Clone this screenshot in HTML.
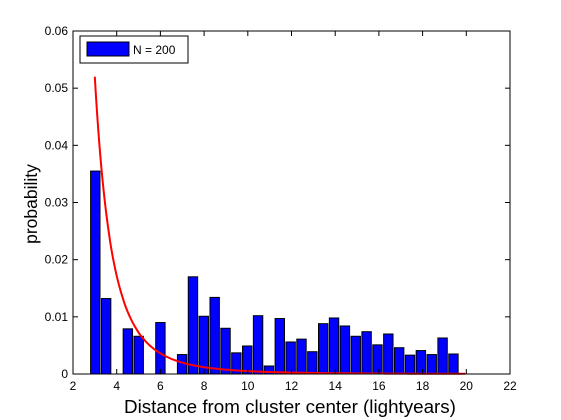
<!DOCTYPE html>
<html><head><meta charset="utf-8"><style>body{margin:0;background:#fff}svg{display:block}text{font-family:"Liberation Sans",sans-serif}</style></head>
<body>
<svg id="c" width="561" height="420">
<rect x="0" y="0" width="561" height="420" fill="#fff"/>
<rect x="73" y="31" width="437" height="343" fill="#fff"/>
<g id="bars"></g><g id="curve"></g><g id="axes"></g>
<g>
<rect x="80" y="36" width="108" height="27" fill="#fff" stroke="#000" stroke-width="1"/>
<rect x="87" y="42" width="42" height="14" fill="#0000ff" stroke="#000"/>
<text x="133" y="54" font-size="12">N = 200</text>
</g>
<text x="290" y="413" font-size="18.8" text-anchor="middle">Distance from cluster center (lightyears)</text>
<text transform="translate(37,204) rotate(-90)" font-size="17.5" text-anchor="middle">probability</text>
</svg>
<script>
const binCenters=[];for(let k=0;k<34;k++)binCenters.push(3.02+k*0.4967);
const probs=[.0355,.0132,0,.0079,.0066,0,.009,0,.0034,.017,.0101,.0134,.008,.0037,.0049,.0102,.0014,.0097,.0056,.0061,.0039,.0088,.0098,.0084,.0066,.0074,.0051,.007,.0046,.0033,.0041,.0034,.0063,.0035];
const xTicks=[2,4,6,8,10,12,14,16,18,20,22];
const yTicks=[0,0.01,0.02,0.03,0.04,0.05,0.06];
const yTickLabels=["0","0.01","0.02","0.03","0.04","0.05","0.06"];
const fitA=0.052, fitN=3.85, fitX0=3, fitX1=20;
const X=v=>73+(v-2)*437/20, Y=v=>374-v*343/0.06;
const NS="http://www.w3.org/2000/svg";
function mk(t,a,p){const e=document.createElementNS(NS,t);for(const k in a)e.setAttribute(k,a[k]);p.appendChild(e);return e;}
const bars=document.getElementById('bars');
binCenters.forEach((c,i)=>{if(probs[i]<=0)return;
 const w=0.43*437/20;
 const r=mk('rect',{x:X(c)-w/2,y:Y(probs[i]),width:w,height:Y(0)-Y(probs[i]),fill:'#0000ff',stroke:'#000','stroke-width':1},bars);
 
 });
let d='';for(let x=fitX0;x<=fitX1;x+=0.05){d+=(d?'L':'M')+X(x).toFixed(1)+','+Y(fitA*Math.pow(fitX0/x,fitN)).toFixed(1);}
const cv=mk('path',{d:d,fill:'none',stroke:'#ff0000','stroke-width':2},document.getElementById('curve'));


const ax=document.getElementById('axes');
const fr=mk('rect',{x:73,y:31,width:437,height:343,fill:'none',stroke:'#000','stroke-width':1},ax);


xTicks.forEach(t=>{mk('line',{x1:X(t),x2:X(t),y1:374,y2:369,stroke:'#000'},ax);mk('line',{x1:X(t),x2:X(t),y1:31,y2:36,stroke:'#000'},ax);
 const l=mk('text',{x:X(t),y:390,'font-size':12,'text-anchor':'middle'},ax);l.textContent=t;
 
 });
yTicks.forEach((t,i)=>{mk('line',{x1:73,x2:78,y1:Y(t),y2:Y(t),stroke:'#000'},ax);mk('line',{x1:510,x2:505,y1:Y(t),y2:Y(t),stroke:'#000'},ax);
 const l=mk('text',{x:68,y:Y(t)+4,'font-size':12,'text-anchor':'end'},ax);l.textContent=yTickLabels[i];
 
 });
</script>
</body></html>
